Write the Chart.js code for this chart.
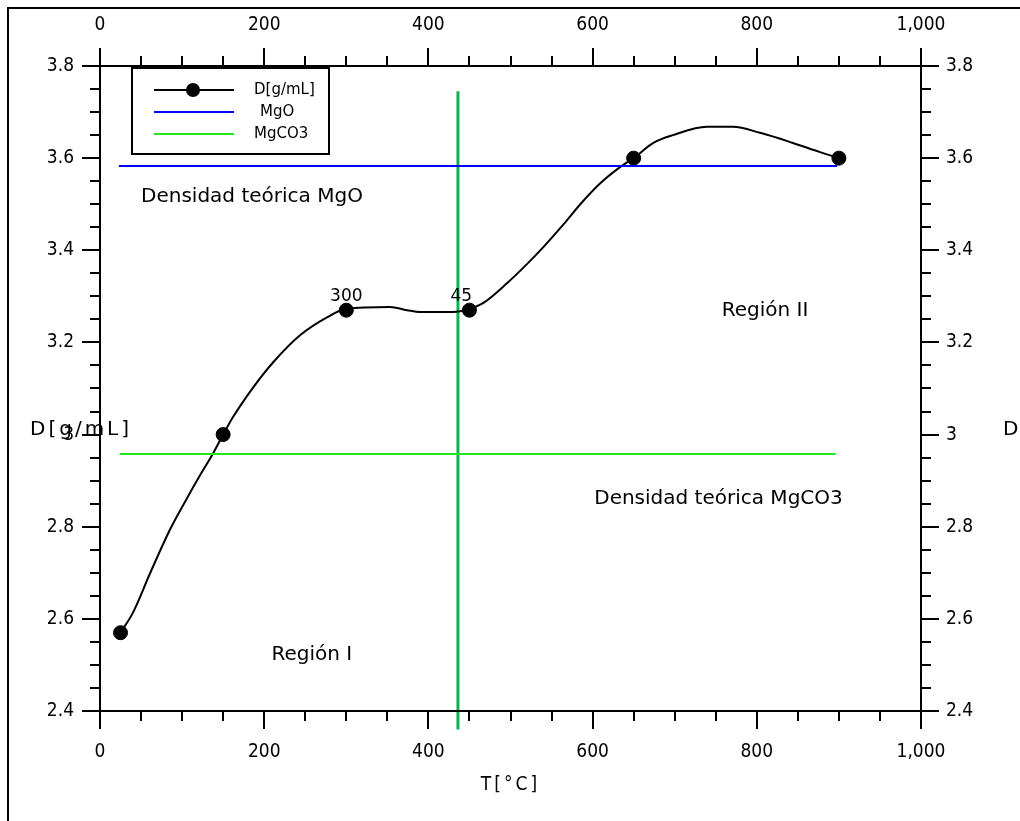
<!DOCTYPE html>
<html>
<head>
<meta charset="utf-8">
<script src="https://cdn.jsdelivr.net/npm/chart.js@4/dist/chart.umd.min.js"></script>
<style>
  body { margin: 0; background: #fff; }
  canvas { display: block; }
</style>
</head>
<body>
<canvas id="densityChart" width="1020" height="821"></canvas>
<script>
// measured points (T in °C, D in g/mL)
const tempC = [25, 150, 300, 450, 650, 900];
const density = [2.57, 3.0, 3.27, 3.27, 3.6, 3.6];

// smooth curve
const curveT = [25, 40, 61, 85, 106, 122, 138, 150, 162, 186, 211, 244, 277, 300, 353, 374, 390, 430, 450,
  467, 496, 520, 540, 564, 585, 609, 633, 650, 674, 698, 739, 771, 804, 844, 877, 900];
const curveD = [2.57, 2.613, 2.699, 2.793, 2.862, 2.912, 2.96, 3.0, 3.038, 3.101, 3.157, 3.216, 3.255, 3.273, 3.277, 3.27, 3.266, 3.266, 3.273,
  3.286, 3.329, 3.37, 3.407, 3.455, 3.5, 3.545, 3.58, 3.6, 3.633, 3.65, 3.668, 3.668, 3.655, 3.633, 3.613, 3.6];

// theoretical densities and region boundary
const mgoT = [23, 898];
const mgoD = [3.583, 3.583];
const mgco3T = [24, 896];
const mgco3D = [2.958, 2.958];
const boundaryT = [436, 436];
const boundaryD = [2.36, 3.745];

// axes
const xTicks = [0, 200, 400, 600, 800, 1000];
const xTickLabels = ['0', '200', '400', '600', '800', '1,000'];
const yTicks = [2.4, 2.6, 2.8, 3.0, 3.2, 3.4, 3.6, 3.8];
const yTickLabels = ['2.4', '2.6', '2.8', '3', '3.2', '3.4', '3.6', '3.8'];
const xMinorStep = 50;
const yMinorStep = 0.05;

// point labels and notes
const pointNotes = [
  { t: 300, d: 3.3, text: '300' },
  { t: 440, d: 3.3, text: '45' }
];
const notes = [
  { t: 50, d: 3.516, text: 'Densidad teórica MgO', align: 'left' },
  { t: 810, d: 3.268, text: 'Región II', align: 'center' },
  { t: 602, d: 2.86, text: 'Densidad teórica MgCO3', align: 'left' },
  { t: 258, d: 2.522, text: 'Región I', align: 'center' }
];

const toXY = (xs, ys) => xs.map((x, i) => ({ x: x, y: ys[i] }));

const CONDENSED = '"DejaVu Sans Condensed", "Liberation Sans Narrow", sans-serif';
const SANS = '"DejaVu Sans", Verdana, sans-serif';

const axesPlugin = {
  id: 'axesPlugin',
  afterDraw(chart) {
    const ctx = chart.ctx;
    const xs = chart.scales.x;
    const ys = chart.scales.y;
    const a = chart.chartArea;
    ctx.save();

    // outer frame
    ctx.strokeStyle = '#000';
    ctx.lineWidth = 2;
    ctx.strokeRect(8, 8, 1040, 840);

    // plot box
    ctx.strokeRect(a.left, a.top, a.right - a.left, a.bottom - a.top);

    // x ticks top + bottom
    for (let v = 0; v <= 1000; v += xMinorStep) {
      const px = Math.round(xs.getPixelForValue(v));
      const len = v % 200 === 0 ? 18 : 10;
      ctx.beginPath();
      ctx.moveTo(px, a.top); ctx.lineTo(px, a.top - len);
      ctx.moveTo(px, a.bottom); ctx.lineTo(px, a.bottom + len);
      ctx.stroke();
    }
    // y ticks left + right
    for (let i = 0; i <= 28; i++) {
      const py = Math.round(ys.getPixelForValue(2.4 + i * yMinorStep));
      const len = i % 4 === 0 ? 18 : 10;
      ctx.beginPath();
      ctx.moveTo(a.left, py); ctx.lineTo(a.left - len, py);
      ctx.moveTo(a.right, py); ctx.lineTo(a.right + len, py);
      ctx.stroke();
    }

    // tick labels
    ctx.fillStyle = '#000';
    ctx.font = '19px ' + CONDENSED;
    ctx.textAlign = 'center';
    ctx.textBaseline = 'middle';
    xTicks.forEach((v, i) => {
      const px = xs.getPixelForValue(v);
      ctx.fillText(xTickLabels[i], px, 25);
      ctx.fillText(xTickLabels[i], px, 752);
    });
    yTicks.forEach((v, i) => {
      const py = ys.getPixelForValue(v);
      ctx.textAlign = 'right';
      ctx.fillText(yTickLabels[i], 74, py);
      ctx.textAlign = 'left';
      ctx.fillText(yTickLabels[i], 946, py);
    });

    // axis titles
    ctx.font = '19px ' + CONDENSED;
    ctx.letterSpacing = '3px';
    ctx.textAlign = 'center';
    ctx.fillText('T[°C]', (a.left + a.right) / 2, 785);
    ctx.font = '20px ' + SANS;
    ctx.textAlign = 'left';
    ctx.fillText('D[g/mL]', 30, 430);
    ctx.fillText('D[g/mL]', 1003, 430);
    ctx.letterSpacing = '0px';

    // point labels
    ctx.font = '17px ' + SANS;
    ctx.textAlign = 'center';
    pointNotes.forEach(n => {
      ctx.fillText(n.text, xs.getPixelForValue(n.t), ys.getPixelForValue(n.d));
    });

    // notes
    ctx.font = '20px ' + SANS;
    notes.forEach(n => {
      ctx.textAlign = n.align;
      ctx.fillText(n.text, xs.getPixelForValue(n.t), ys.getPixelForValue(n.d));
    });

    // legend
    const lx = 132, ly = 68;
    ctx.fillStyle = '#fff';
    ctx.fillRect(lx, ly, 197, 86);
    ctx.lineWidth = 2;
    ctx.strokeStyle = '#000';
    ctx.strokeRect(lx, ly, 197, 86);
    const items = [
      { text: 'D[g/mL]', color: '#000', marker: true, tx: 254 },
      { text: 'MgO', color: '#0000ff', marker: false, tx: 260 },
      { text: 'MgCO3', color: '#22e622', marker: false, tx: 254 }
    ];
    ctx.font = '15px ' + SANS;
    ctx.textAlign = 'left';
    items.forEach((it, i) => {
      const y = 90 + i * 22;
      ctx.strokeStyle = it.color;
      ctx.lineWidth = 2;
      ctx.beginPath(); ctx.moveTo(154, y); ctx.lineTo(234, y); ctx.stroke();
      if (it.marker) {
        ctx.fillStyle = '#000';
        ctx.beginPath(); ctx.arc(193, y, 7, 0, Math.PI * 2); ctx.fill();
      }
      ctx.fillStyle = '#000';
      ctx.fillText(it.text, it.tx, y);
    });

    ctx.restore();
  }
};

new Chart(document.getElementById('densityChart'), {
  type: 'scatter',
  data: {
    datasets: [
      {
        label: 'MgO',
        data: toXY(mgoT, mgoD),
        showLine: true,
        borderColor: '#0000ff',
        borderWidth: 2,
        pointRadius: 0
      },
      {
        label: 'MgCO3',
        data: toXY(mgco3T, mgco3D),
        showLine: true,
        borderColor: '#22e622',
        borderWidth: 2,
        pointRadius: 0
      },
      {
        label: 'curve',
        data: toXY(curveT, curveD),
        showLine: true,
        borderColor: '#000',
        borderWidth: 2,
        pointRadius: 0,
        cubicInterpolationMode: 'monotone'
      },
      {
        label: 'D[g/mL]',
        data: toXY(tempC, density),
        showLine: false,
        backgroundColor: '#000',
        borderColor: '#000',
        pointRadius: 7
      },
      {
        label: 'boundary',
        data: toXY(boundaryT, boundaryD),
        showLine: true,
        borderColor: '#12b052',
        borderWidth: 3,
        pointRadius: 0,
        clip: false
      }
    ]
  },
  options: {
    responsive: false,
    animation: false,
    layout: { padding: { left: 100, right: 99, top: 66, bottom: 110 } },
    scales: {
      x: { type: 'linear', min: 0, max: 1000, display: false },
      y: { type: 'linear', min: 2.4, max: 3.8, display: false }
    },
    plugins: {
      legend: { display: false },
      tooltip: { enabled: false }
    }
  },
  plugins: [axesPlugin]
});
</script>
</body>
</html>
